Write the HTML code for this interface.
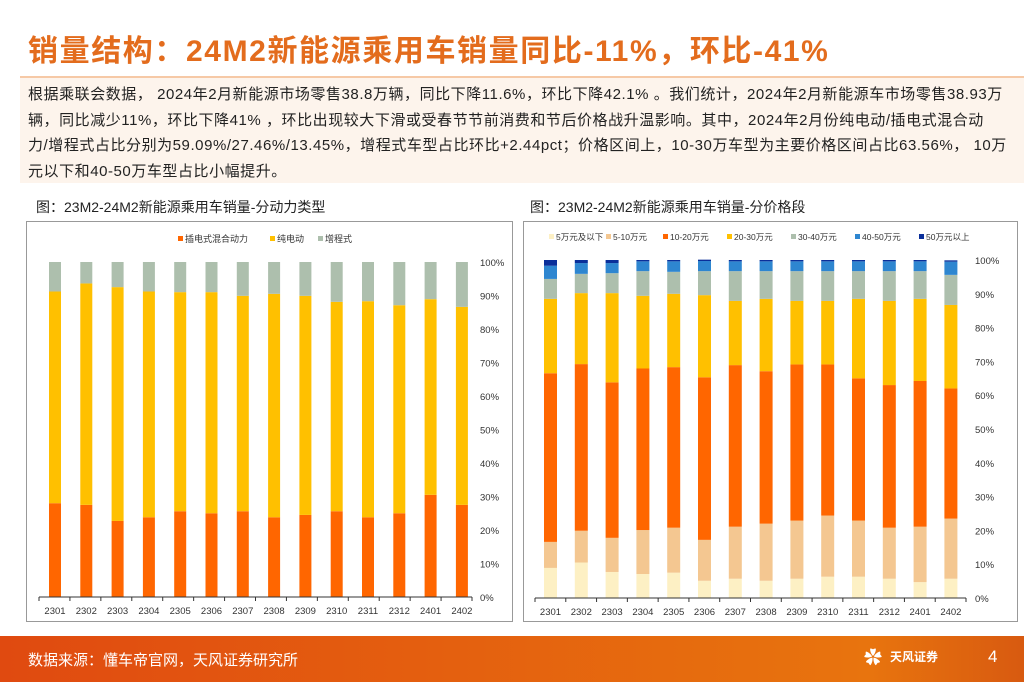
<!DOCTYPE html>
<html><head><meta charset="utf-8"><style>
body{margin:0;width:1024px;height:682px;position:relative;overflow:hidden;background:#fff;font-family:"Liberation Sans","Noto Sans CJK SC",sans-serif}
.t{position:absolute;white-space:nowrap}
#title{left:28px;top:26px;font-size:30px;font-weight:bold;color:#e36c1d;letter-spacing:1.6px}
#box{position:absolute;left:20px;top:76px;width:1004px;height:105px;background:#fdf4ec;border-top:2px solid #f6c9a6}
#box p{margin:0;padding:4px 8px;font-size:15px;line-height:25.5px;color:#222;letter-spacing:0.55px;white-space:nowrap}
.cap{font-size:14px;color:#222;top:197px}
.frame{position:absolute;top:221px;height:401px;border:1px solid #999;box-sizing:border-box}
#foot{position:absolute;left:0;top:636px;width:1024px;height:46px;background:linear-gradient(90deg,#e04a10,#e8740e 85%,#d85a10)}
</style></head><body>
<div class="t" id="title">销量结构：24M2新能源乘用车销量同比-11%，环比-41%</div>
<div id="box"><p>根据乘联会数据， 2024年2月新能源市场零售38.8万辆，同比下降11.6%，环比下降42.1% 。我们统计，2024年2月新能源车市场零售38.93万<br>辆，同比减少11%，环比下降41% ，环比出现较大下滑或受春节节前消费和节后价格战升温影响。其中，2024年2月份纯电动/插电式混合动<br>力/增程式占比分别为59.09%/27.46%/13.45%，增程式车型占比环比+2.44pct；价格区间上，10-30万车型为主要价格区间占比63.56%， 10万<br>元以下和40-50万车型占比小幅提升。</p></div>
<div class="t cap" style="left:36px">图：23M2-24M2新能源乘用车销量-分动力类型</div>
<div class="t cap" style="left:530px">图：23M2-24M2新能源乘用车销量-分价格段</div>
<div class="frame" style="left:26px;width:487px"></div>
<div class="frame" style="left:523px;width:495px"></div>
<svg id="svg" width="1024" height="682" style="position:absolute;left:0;top:0"></svg>
<div id="foot">
<div class="t" style="left:28px;top:13px;font-size:15px;color:#fff">数据来源：懂车帝官网，天风证券研究所</div>
<div class="t" style="left:864px;top:8px;font-size:18px;color:#fff">✿</div>
<div class="t" style="left:890px;top:12px;font-size:12px;color:#fff;font-weight:bold">天风证券</div>
<div class="t" style="left:988px;top:11px;font-size:17px;color:#fff">4</div>
</div>
<script>
const categories=["2301","2302","2303","2304","2305","2306","2307","2308","2309","2310","2311","2312","2401","2402"];
const phev=[28,27.5,22.7,23.8,25.6,25,25.6,23.8,24.5,25.6,23.8,25,30.5,27.5];
const bev=[63.2,66.1,69.8,67.4,65.4,66,64.3,66.7,65.4,62.5,64.5,62.1,58.4,59.1];
const erev=[8.8,6.4,7.5,8.8,9,9,10.1,9.5,10.1,11.9,11.7,12.9,11.1,13.4];
const p1=[8.9,10.5,7.7,7.1,7.5,5.1,5.7,5.1,5.7,6.3,6.3,5.7,4.7,5.7];
const p2=[7.7,9.4,10.1,13,13.3,12.1,15.4,16.9,17.2,18.1,16.6,15.1,16.4,17.8];
const p3=[49.9,49.3,46,47.8,47.5,48.1,47.8,45.1,46.2,44.7,42.1,42.2,43.1,38.5];
const p4=[22,21,26.4,21.5,21.7,24.3,19,21.4,18.8,18.8,23.5,24.9,24.3,24.7];
const p5=[5.9,5.7,5.9,7.3,6.5,7.1,8.8,8.2,8.8,8.8,8.2,8.8,8.2,8.9];
const p6=[3.9,3.2,3,2.9,3.1,3,2.9,2.9,2.9,2.9,2.9,2.9,2.9,3.9];
const p7=[1.7,0.9,0.9,0.4,0.4,0.4,0.4,0.4,0.4,0.4,0.4,0.4,0.4,0.4];
const ticks=["0%","10%","20%","30%","40%","50%","60%","70%","80%","90%","100%"];
const leftNames=["插电式混合动力","纯电动","增程式"];
const rightNames=["5万元及以下","5-10万元","10-20万元","20-30万元","30-40万元","40-50万元","50万元以上"];
const NS="http://www.w3.org/2000/svg",svg=document.getElementById('svg');
function mk(t,a,txt){const e=document.createElementNS(NS,t);for(const k in a)e.setAttribute(k,a[k]);if(txt!=null)e.textContent=txt;svg.appendChild(e);return e;}
function chart(o){
 const y=v=>o.y0-(o.y0-o.y100)*v/100, x=i=>o.x0+i*o.step;
 categories.forEach((c,i)=>{let acc=0;
  o.series.forEach((s,si)=>{const v=s[i];
   const r=mk('rect',{x:x(i),y:y(acc+v),width:o.bw,height:y(acc)-y(acc+v),fill:o.colors[si]});
   
   acc+=v;});
  const l=mk('text',{x:x(i)+o.bw/2,y:o.y0+17,'font-size':9.5,'text-anchor':'middle',fill:'#333'},c);
  
 });
 mk('line',{x1:o.ax0,x2:o.ax1,y1:o.y0,y2:o.y0,stroke:'#333'});
 for(let i=0;i<=14;i++){const xx=o.ax0+(o.ax1-o.ax0)*i/14;mk('line',{x1:xx,x2:xx,y1:o.y0,y2:o.y0+4,stroke:'#333'});}
 ticks.forEach((t,i)=>{const l=mk('text',{x:o.tx,y:y(i*10)+4,'font-size':9.5,fill:'#333'},t);
  });
 let lx=o.lx;o.names.forEach((n,i)=>{mk('rect',{x:lx,y:o.ly-6,width:5,height:5,fill:o.colors[i]});
  const t=mk('text',{x:lx+7,y:o.ly,'font-size':o.fs,fill:'#333'},n);
  
  lx+=7+n.length*o.cw+8;});
}
chart({pre:'power',series:[phev,bev,erev],colors:['#ff6600','#ffc000','#adbfad'],x0:49,step:31.3,bw:12,y0:597,y100:262,ax0:39,ax1:472,tx:480,names:leftNames,lx:178,ly:242,cw:11,fs:9});
chart({pre:'price',series:[p1,p2,p3,p4,p5,p6,p7],colors:['#fdf0c4','#f4c791','#ff6600','#ffc000','#adbfad','#2e86d0','#0a2f9a'],x0:544,step:30.8,bw:13,y0:598,y100:260,ax0:535,ax1:966,tx:975,names:rightNames,lx:549,ly:240,cw:7,fs:8.5});
</script>
</body></html>
